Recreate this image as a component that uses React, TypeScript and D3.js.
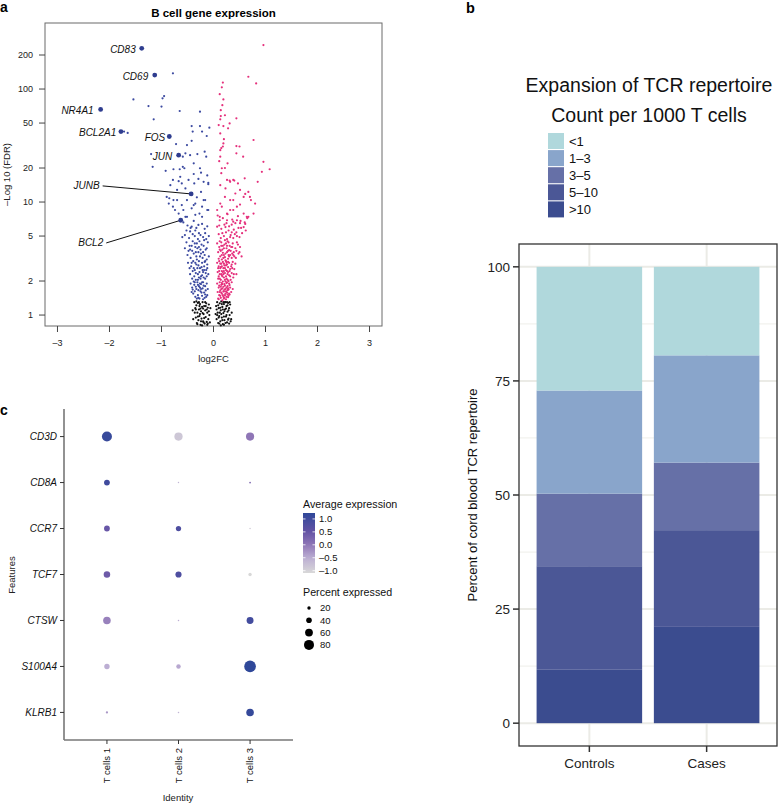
import * as d3 from "d3";

const FONT = "'Liberation Sans', Arial, Helvetica, sans-serif";

// ---------- panel a: volcano ----------
const LABELED_GENES = ["CD83", "CD69", "NR4A1", "BCL2A1", "FOS", "JUN", "JUNB", "BCL2"];
const LABELED_FC = [-1.38, -1.13, -2.17, -1.78, -0.85, -0.67, -0.43, -0.63];
const LABELED_FDR = [229, 133, 66, 42, 38, 26, 11.8, 6.9];

// [log2FC, -log10 FDR]
const DOWN_POINTS = [
  [-1.54, 81], [-1.65, 40.9], [-1.72, 42], [-1.25, 70.6], [-1.0, 70], [-0.98, 82.8], [-0.95, 86.7], [-0.78, 137.7],
  [-1.15, 54], [-0.65, 63.9], [-0.26, 63], [-0.42, 47], [-0.26, 47], [-0.08, 45.5], [-0.4, 42], [-0.22, 42],
  [-0.13, 38.4], [-0.42, 34.8], [-0.51, 31.9], [-1.2, 26.6], [-0.59, 25.2], [-1.17, 20.5], [-0.92, 18.9], [-0.77, 19.5],
  [-0.45, 26], [-0.31, 26.6], [-0.17, 27.9], [-0.14, 25.2], [-0.59, 20.5], [-0.38, 22], [-0.26, 19.9], [-0.64, 16.7],
  [-0.48, 15.7], [-0.37, 14.6], [-0.1, 14.4], [-0.83, 14.1], [-0.7, 12.8], [-0.54, 13.2], [-0.24, 12.3], [-0.9, 11.1],
  [-0.77, 10.4], [-0.86, 9.7], [-0.74, 8.5], [-0.61, 9.4], [-0.51, 10.4], [-0.35, 9.7], [-0.19, 10.4], [-0.1, 8.5],
  [-0.27, 7.9], [-0.42, 8.8], [-0.54, 7.4], [-0.67, 7.9], [-0.72, 32.6], [-0.54, 27], [-0.65, 19.5], [-0.56, 19.9],
  [-0.38, 17.7], [-0.24, 18.2], [-0.12, 17.2], [-0.78, 15.7], [-0.67, 15.3], [-0.61, 14.6], [-0.29, 16], [-0.19, 15.1],
  [-0.1, 14.8], [-0.85, 10.8], [-0.7, 10.4], [-0.32, 11], [-0.16, 10.4], [-0.78, 9.1], [-0.58, 8.5], [-0.38, 9.4],
  [-0.22, 9.1], [-0.12, 8.5], [-0.51, 7.4], [-0.35, 7.7], [-0.22, 7.4], [-0.42, 6.05], [-0.29, 6.27],
  [-0.58, 6.6], [-0.5, 6.2], [-0.45, 5.5], [-0.38, 6.8], [-0.33, 5.9], [-0.28, 5.3], [-0.22, 6.4], [-0.17, 5.8],
  [-0.12, 6.1], [-0.09, 5.0], [-0.55, 5.1], [-0.47, 4.8], [-0.4, 5.2], [-0.3, 4.7], [-0.2, 4.9], [-0.14, 4.7],
  [-0.6, 4.9], [-0.35, 5.6], [-0.52, 4.4], [-0.46, 4.1], [-0.41, 3.7], [-0.36, 4.3], [-0.31, 3.9], [-0.27, 4.5],
  [-0.24, 3.5], [-0.19, 4.1], [-0.15, 3.8], [-0.11, 4.4], [-0.09, 3.3], [-0.5, 3.4], [-0.44, 3.2], [-0.38, 3.5],
  [-0.33, 3.3], [-0.29, 3.6], [-0.21, 3.2], [-0.17, 3.4], [-0.13, 3.1], [-0.55, 3.9], [-0.48, 3.7], [-0.35, 4.0],
  [-0.25, 3.8], [-0.4, 4.5], [-0.49, 2.9], [-0.43, 2.7], [-0.39, 3.0], [-0.36, 2.5], [-0.33, 2.8], [-0.3, 2.3],
  [-0.28, 3.0], [-0.26, 2.6], [-0.24, 2.2], [-0.22, 2.9], [-0.2, 2.4], [-0.18, 2.7], [-0.16, 2.1], [-0.14, 2.5],
  [-0.12, 2.8], [-0.1, 2.3], [-0.45, 2.3], [-0.41, 2.1], [-0.37, 2.2], [-0.34, 2.05], [-0.31, 2.6], [-0.27, 2.4],
  [-0.23, 2.65], [-0.19, 2.15], [-0.15, 2.35], [-0.35, 2.9], [-0.29, 2.75], [-0.21, 2.5], [-0.17, 2.95], [-0.13, 2.2],
  [-0.4, 2.45], [-0.25, 2.1], [-0.44, 1.9], [-0.41, 1.75], [-0.39, 1.55], [-0.37, 1.85], [-0.35, 1.45], [-0.33, 1.7],
  [-0.31, 1.95], [-0.3, 1.5], [-0.28, 1.8], [-0.27, 1.4], [-0.25, 1.62], [-0.24, 1.88], [-0.22, 1.48], [-0.21, 1.72],
  [-0.2, 1.95], [-0.18, 1.58], [-0.17, 1.42], [-0.16, 1.8], [-0.15, 1.65], [-0.13, 1.9], [-0.12, 1.5], [-0.11, 1.7],
  [-0.36, 1.62], [-0.32, 1.4], [-0.29, 1.66], [-0.26, 1.9], [-0.23, 1.58], [-0.19, 1.82], [-0.14, 1.45], [-0.38, 1.98],
  [-0.34, 1.78], [-0.2, 1.38], [-0.42, 1.6], [-0.3, 1.85], [-0.24, 1.7],
  [-0.34, 2.35], [-0.28, 2.15], [-0.22, 2.25], [-0.18, 2.5], [-0.32, 3.1], [-0.26, 3.3], [-0.2, 3.6], [-0.16, 3.0],
  [-0.42, 2.9], [-0.38, 2.6], [-0.3, 2.05], [-0.12, 2.6], [-0.26, 1.75], [-0.22, 1.95], [-0.16, 1.52], [-0.36, 1.95],
  [-0.29, 1.42], [-0.4, 1.68], [-0.46, 2.6], [-0.23, 4.2], [-0.45, 3.8], [-0.34, 3.6], [-0.13, 3.9], [-0.28, 4.0],
  [-0.42, 4.1], [-0.18, 4.6], [-0.32, 4.3], [-0.25, 5.1], [-0.44, 5.9], [-0.16, 5.3], [-0.52, 5.6], [-0.36, 5.0],
];

const UP_POINTS = [
  [0.96, 245], [0.67, 128.5], [0.82, 112], [0.18, 114], [0.16, 103.5], [0.19, 81], [0.14, 65], [0.44, 55],
  [0.13, 54], [0.19, 47], [0.28, 44.9], [0.13, 40.5], [0.77, 35.4], [0.44, 31.3], [0.5, 31], [0.18, 31],
  [0.44, 27], [0.57, 25.2], [0.13, 25.2], [0.96, 22.7], [0.27, 22], [1.08, 19.5], [0.93, 18.5], [0.15, 18],
  [0.38, 15.7], [0.31, 15.5], [0.6, 16.2], [0.85, 15.1], [0.47, 14.6], [0.13, 14.1], [0.23, 13.2], [0.67, 12.3],
  [0.42, 11.9], [0.58, 11.1], [0.72, 10.4], [0.8, 9.7], [0.32, 10.4], [0.13, 9.7], [0.51, 9.5], [0.07, 8.5],
  [0.26, 7.9], [0.38, 8.5], [0.64, 7.4], [0.45, 6.9], [0.77, 7.9], [0.14, 57.6], [0.22, 58.6], [0.31, 49.6],
  [0.19, 33], [0.13, 28.8], [0.16, 19.9], [0.26, 15.7], [0.32, 15.1], [0.4, 15.5], [0.51, 12.8], [0.61, 11.8],
  [0.7, 11.1], [0.22, 11.1], [0.38, 10.4], [0.16, 9.1], [0.32, 8.5], [0.45, 9.1], [0.58, 7.9], [0.67, 7.4],
  [0.12, 7.4], [0.26, 6.9], [0.38, 6.7], [0.51, 6.5], [0.61, 6.4], [0.07, 6.05], [0.12, 90], [0.17, 72],
  [0.1, 48], [0.2, 36], [0.15, 30], [0.11, 23], [0.22, 20],
  [0.08, 7.6], [0.12, 6.9], [0.15, 5.8], [0.18, 7.2], [0.21, 6.3], [0.24, 5.4], [0.27, 7.8], [0.3, 6.1],
  [0.33, 5.1], [0.36, 7.0], [0.39, 5.7], [0.42, 6.5], [0.45, 5.0], [0.48, 5.9], [0.52, 6.8], [0.55, 5.3],
  [0.58, 6.0], [0.62, 5.6], [0.1, 5.2], [0.14, 4.8], [0.2, 5.0], [0.26, 4.7], [0.32, 4.9], [0.38, 4.8],
  [0.44, 5.4], [0.5, 4.9], [0.65, 7.2], [0.11, 6.2], [0.23, 6.0], [0.35, 6.3],
  [0.07, 4.3], [0.09, 3.6], [0.11, 4.0], [0.13, 3.3], [0.15, 4.4], [0.17, 3.8], [0.19, 3.2], [0.21, 4.2],
  [0.23, 3.5], [0.25, 3.9], [0.27, 4.5], [0.29, 3.4], [0.31, 4.1], [0.33, 3.7], [0.35, 3.2], [0.37, 4.3],
  [0.39, 3.6], [0.42, 3.9], [0.45, 4.4], [0.48, 3.5], [0.51, 4.0], [0.54, 3.3], [0.1, 3.15], [0.14, 3.7],
  [0.18, 4.1], [0.22, 3.25], [0.26, 3.6], [0.3, 3.3], [0.34, 4.0], [0.38, 3.4], [0.43, 3.2], [0.47, 4.2],
  [0.2, 3.9], [0.28, 3.15], [0.24, 4.3], [0.12, 4.5], [0.36, 3.5], [0.16, 3.4],
  [0.07, 2.9], [0.08, 2.4], [0.09, 2.1], [0.1, 2.7], [0.11, 3.0], [0.12, 2.3], [0.13, 2.6], [0.14, 2.05],
  [0.15, 2.85], [0.16, 2.45], [0.17, 2.2], [0.18, 2.95], [0.19, 2.6], [0.2, 2.15], [0.21, 2.75], [0.22, 2.35],
  [0.23, 3.05], [0.24, 2.5], [0.25, 2.1], [0.26, 2.8], [0.27, 2.3], [0.28, 2.65], [0.29, 2.0], [0.3, 2.9],
  [0.31, 2.45], [0.32, 2.2], [0.34, 2.7], [0.35, 2.35], [0.37, 2.95], [0.38, 2.15], [0.4, 2.55], [0.42, 2.85],
  [0.44, 2.3], [0.1, 2.2], [0.13, 2.85], [0.16, 2.7], [0.19, 2.3], [0.22, 2.6], [0.25, 2.9], [0.28, 2.4],
  [0.33, 2.05], [0.36, 2.6], [0.2, 2.45], [0.15, 2.3], [0.27, 2.05], [0.09, 2.6], [0.24, 2.75],
  [0.07, 1.9], [0.08, 1.6], [0.09, 1.4], [0.1, 1.75], [0.11, 1.5], [0.12, 1.95], [0.13, 1.65], [0.14, 1.42],
  [0.15, 1.85], [0.16, 1.55], [0.17, 1.72], [0.18, 1.98], [0.19, 1.45], [0.2, 1.62], [0.21, 1.88], [0.22, 1.5],
  [0.23, 1.7], [0.24, 1.38], [0.25, 1.92], [0.26, 1.58], [0.27, 1.8], [0.28, 1.44], [0.29, 1.68], [0.3, 1.9],
  [0.31, 1.52], [0.32, 1.75], [0.34, 1.6], [0.35, 1.95], [0.37, 1.7], [0.1, 1.38], [0.12, 1.6], [0.14, 1.78],
  [0.16, 1.92], [0.18, 1.5], [0.2, 1.4], [0.22, 1.82], [0.24, 1.62], [0.26, 1.95], [0.28, 1.72], [0.3, 1.55],
  [0.13, 1.48], [0.17, 1.35], [0.21, 1.68], [0.25, 1.45], [0.19, 1.78], [0.23, 1.98], [0.27, 1.52], [0.15, 1.7],
  [0.11, 1.82], [0.15, 1.58], [0.19, 1.62], [0.23, 1.55], [0.27, 1.66], [0.31, 1.84], [0.17, 1.88], [0.21, 1.42],
  [0.25, 1.75], [0.29, 1.48], [0.12, 2.1], [0.16, 2.25], [0.2, 2.85], [0.24, 2.2], [0.28, 2.95], [0.32, 2.55],
  [0.14, 2.65], [0.18, 2.4], [0.22, 2.05], [0.26, 2.45], [0.3, 2.25], [0.11, 2.45], [0.35, 2.8], [0.39, 2.3],
  [0.16, 3.1], [0.2, 3.4], [0.24, 3.0], [0.28, 3.7], [0.32, 3.4], [0.12, 3.8], [0.18, 3.55], [0.26, 4.1],
  [0.3, 3.75], [0.22, 4.6], [0.36, 4.0], [0.4, 3.3], [0.44, 3.7], [0.15, 4.1], [0.29, 4.4], [0.5, 3.6],
  [0.17, 5.3], [0.29, 5.6], [0.41, 5.2], [0.53, 5.9], [0.25, 6.5], [0.47, 7.5], [0.6, 6.6], [0.35, 5.4],
];

const NS_POINTS = [
  [-0.37, 1.3], [-0.35, 1.15], [-0.34, 0.95], [-0.33, 1.22], [-0.32, 0.85], [-0.31, 1.05], [-0.3, 1.28], [-0.29, 0.9],
  [-0.28, 1.12], [-0.27, 0.98], [-0.26, 1.25], [-0.25, 0.82], [-0.24, 1.08], [-0.23, 0.93], [-0.22, 1.18], [-0.21, 1.3],
  [-0.2, 0.88], [-0.19, 1.02], [-0.18, 1.2], [-0.17, 0.84], [-0.16, 1.1], [-0.15, 0.96], [-0.14, 1.27], [-0.13, 0.87],
  [-0.12, 1.05], [-0.11, 1.16], [-0.1, 0.92], [-0.09, 1.24], [-0.08, 1.0], [-0.07, 0.86], [-0.36, 1.05], [-0.33, 1.32],
  [-0.3, 0.97], [-0.27, 1.2], [-0.24, 0.88], [-0.21, 1.04], [-0.18, 0.94], [-0.15, 1.2], [-0.12, 0.82], [-0.28, 1.3],
  [-0.22, 0.81], [-0.16, 1.3], [-0.26, 1.02], [-0.2, 1.14], [-0.34, 1.12], [-0.13, 1.12], [-0.31, 0.83], [-0.19, 0.86],
  [-0.09, 1.08], [-0.25, 1.14], [-0.4, 1.1], [-0.39, 0.92], [-0.06, 1.15], [-0.11, 0.84],
  [0.05, 1.2], [0.06, 0.92], [0.07, 1.3], [0.08, 1.05], [0.09, 0.85], [0.1, 1.15], [0.11, 0.98], [0.12, 1.27],
  [0.13, 0.88], [0.14, 1.1], [0.15, 1.32], [0.16, 0.95], [0.17, 1.18], [0.18, 0.83], [0.19, 1.04], [0.2, 1.25],
  [0.21, 0.9], [0.22, 1.12], [0.23, 1.3], [0.24, 0.97], [0.25, 1.2], [0.26, 0.86], [0.27, 1.07], [0.28, 1.28],
  [0.29, 0.93], [0.3, 1.15], [0.31, 1.0], [0.32, 1.24], [0.33, 0.88], [0.07, 1.0], [0.09, 1.22], [0.11, 0.84],
  [0.13, 1.16], [0.15, 1.02], [0.17, 0.9], [0.19, 1.3], [0.21, 1.08], [0.23, 0.85], [0.25, 1.0], [0.27, 1.22],
  [0.29, 1.1], [0.31, 1.3], [0.12, 1.05], [0.16, 1.25], [0.2, 0.97], [0.24, 1.14], [0.28, 0.91], [0.14, 0.81],
  [0.22, 1.3], [0.18, 1.12], [0.26, 1.3], [0.1, 0.95], [0.06, 1.12], [0.3, 0.84], [0.2, 0.82], [0.35, 1.05],
  [0.34, 0.92], [0.04, 1.02],
];

const VOLCANO_X_TICKS = [-3, -2, -1, 0, 1, 2, 3];
const VOLCANO_Y_TICKS = [1, 2, 5, 10, 20, 50, 100, 200];

// label placement relative to the dot (px), [dx, dy, leader line]
const LABEL_OFFSETS = [
  [-6, 1.5, 0], [-6.5, 1.7, 0], [-7, 0.7, 0], [-4.7, 1.3, 0],
  [-4, 1, 0], [-6.4, 1.7, 0], [-91.5, -8, 1], [-77.5, 22.7, 1],
];

// ---------- panel b: stacked bars ----------
const GROUPS = ["Controls", "Cases"];
const BINS = [">10", "5\u201310", "3\u20135", "1\u20133", "<1"];
const CONTROLS_PCT = [11.7, 22.7, 15.9, 22.6, 27.1];
const CASES_PCT = [21.1, 21.2, 14.8, 23.5, 19.4];
const BIN_COLORS = ["#3b4c8f", "#4b5796", "#6670a7", "#89a5cb", "#b0d8dc"];
const PCT_TICKS = [0, 25, 50, 75, 100];

// ---------- panel c: dot plot ----------
const GENES = ["CD3D", "CD8A", "CCR7", "TCF7", "CTSW", "S100A4", "KLRB1"];
const CLUSTERS = ["T cells 1", "T cells 2", "T cells 3"];
const AVG_EXP = [
  [1.1, -0.85, 0.0],
  [1.0, -0.6, 0.2],
  [0.45, 0.8, -0.9],
  [0.4, 0.8, -1.09],
  [-0.1, -0.5, 0.95],
  [-0.5, -0.45, 1.23],
  [-0.3, -0.6, 1.15],
];
const PCT_EXP = [
  [80, 64, 63],
  [42, 2, 5],
  [42, 37, 3],
  [48, 45, 20],
  [58, 3, 52],
  [38, 30, 95],
  [10, 3, 58],
];
const EXP_BREAKS = [1.0, 0.5, 0.0, -0.5, -1.0];
const SIZE_BREAKS = [20, 40, 60, 80];

const fmt = (v: number, d = 0) => (v < 0 ? "\u2013" : "") + Math.abs(v).toFixed(d);

function Volcano() {
  const x = d3.scaleLinear().domain([-3.24, 3.24]).range([45, 382]);
  const y = d3.scaleLog().domain([0.8, 384]).range([326, 23]);
  const dot = (pts: number[][], color: string) =>
    pts.map((p, i) => <circle key={color + i} cx={x(p[0])} cy={y(p[1])} r={1.1} fill={color} />);
  return (
    <g fontFamily={FONT}>
      <text x={0} y={12} fontSize={14} fontWeight="bold">a</text>
      <text x={213.5} y={17} fontSize={11.5} fontWeight="bold" textAnchor="middle">B cell gene expression</text>
      <rect x={45} y={23} width={337} height={303} fill="none" stroke="#6b6b6b" strokeWidth={1} />
      {VOLCANO_Y_TICKS.map((t) => (
        <g key={t}>
          <line x1={39} x2={45} y1={y(t)} y2={y(t)} stroke="#444" />
          <text x={33} y={y(t)} dy="0.35em" fontSize={9} textAnchor="end" fill="#222">{t}</text>
        </g>
      ))}
      {VOLCANO_X_TICKS.map((t) => (
        <g key={t}>
          <line x1={x(t)} x2={x(t)} y1={326} y2={332} stroke="#444" />
          <text x={x(t)} y={346} fontSize={9} textAnchor="middle" fill="#222">{fmt(t)}</text>
        </g>
      ))}
      <text x={213.5} y={362} fontSize={9.5} textAnchor="middle" fill="#222">log2FC</text>
      <text transform="translate(10,174.5) rotate(-90)" fontSize={9.5} textAnchor="middle" fill="#222">
        {"\u2013Log 10 (FDR)"}
      </text>
      {dot(NS_POINTS, "#111")}
      {dot(DOWN_POINTS, "#3c4aa0")}
      {dot(UP_POINTS, "#e5307c")}
      {LABELED_GENES.map((g, i) => {
        const cx = x(LABELED_FC[i]);
        const cy = y(LABELED_FDR[i]);
        const [dx, dy, lead] = LABEL_OFFSETS[i];
        return (
          <g key={g}>
            {lead ? <line x1={cx + dx + 3} y1={cy + dy} x2={cx} y2={cy} stroke="#111" strokeWidth={1} /> : null}
            <circle cx={cx} cy={cy} r={2.4} fill="#2f3d8f" />
            <text x={cx + dx} y={cy + dy} dy="0.35em" fontSize={10} fontStyle="italic" textAnchor="end" fill="#111">
              {g}
            </text>
          </g>
        );
      })}
    </g>
  );
}

function StackedBars() {
  const x = d3.scaleBand().domain(GROUPS).range([519, 777]).paddingInner(0.1).paddingOuter(0.15);
  const y = d3.scaleLinear().domain([-5, 105]).range([746, 244]);
  const rows = [CONTROLS_PCT, CASES_PCT];
  const stacks = rows.map((vals) => {
    const ends = d3.cumsum(vals);
    return vals.map((v, i) => [ends[i] - v, ends[i]]);
  });
  const minor = [12.5, 37.5, 62.5, 87.5];
  return (
    <g fontFamily={FONT}>
      <text x={466} y={13} fontSize={14.5} fontWeight="bold">b</text>
      <text x={649} y={92} fontSize={19.5} textAnchor="middle" fill="#111">Expansion of TCR repertoire</text>
      <text x={649} y={122} fontSize={19.5} textAnchor="middle" fill="#111">Count per 1000 T cells</text>
      {[...BINS].reverse().map((b, i) => (
        <g key={b}>
          <rect x={548} y={133 + i * 17.1} width={16} height={16} fill={BIN_COLORS[BINS.length - 1 - i]} />
          <text x={569} y={141 + i * 17.1} dy="0.35em" fontSize={13} fill="#111">{b}</text>
        </g>
      ))}
      <rect x={519} y={244} width={258} height={502} fill="#fff" />
      {minor.map((t) => (
        <line key={t} x1={519} x2={777} y1={y(t)} y2={y(t)} stroke="#f2f2ee" strokeWidth={1.3} />
      ))}
      {PCT_TICKS.map((t) => (
        <line key={t} x1={519} x2={777} y1={y(t)} y2={y(t)} stroke="#ebebe6" strokeWidth={2} />
      ))}
      {GROUPS.map((g) => (
        <line key={g} x1={x(g)! + x.bandwidth() / 2} x2={x(g)! + x.bandwidth() / 2} y1={244} y2={746} stroke="#ebebe6" strokeWidth={2} />
      ))}
      {GROUPS.map((g, gi) =>
        stacks[gi].map(([a, b], i) => (
          <rect key={g + i} x={x(g)} width={x.bandwidth()} y={y(b)} height={y(a) - y(b)} fill={BIN_COLORS[i]} />
        ))
      )}
      <rect x={519} y={244} width={258} height={502} fill="none" stroke="#333" strokeWidth={1.3} />
      {PCT_TICKS.map((t) => (
        <g key={t}>
          <line x1={513} x2={519} y1={y(t)} y2={y(t)} stroke="#333" strokeWidth={1.5} />
          <text x={510} y={y(t)} dy="0.35em" fontSize={13.5} textAnchor="end" fill="#222">{t}</text>
        </g>
      ))}
      {GROUPS.map((g) => (
        <g key={g}>
          <line x1={x(g)! + x.bandwidth() / 2} x2={x(g)! + x.bandwidth() / 2} y1={746} y2={752} stroke="#333" strokeWidth={1.5} />
          <text x={x(g)! + x.bandwidth() / 2} y={768} fontSize={13.5} textAnchor="middle" fill="#222">{g}</text>
        </g>
      ))}
      <text transform="translate(477,495) rotate(-90)" fontSize={13} textAnchor="middle" fill="#111">
        Percent of cord blood TCR repertoire
      </text>
    </g>
  );
}

function DotPlot() {
  const x = d3.scalePoint().domain(CLUSTERS).range([64, 293]).padding(0.6);
  const y = d3.scalePoint().domain(GENES).range([409, 740]).padding(0.6);
  const r = d3.scaleLinear().domain([0, 100]).range([0.6, 6.1]);
  const color = d3
    .scaleLinear<string>()
    .domain([-1.09, -0.5, 0, 0.5, 1.23])
    .range(["#d8d8d8", "#bcaed3", "#8f76b6", "#6453a5", "#2f4899"])
    .interpolate(d3.interpolateRgb);
  const bar = d3.scaleLinear().domain([-1.09, 1.23]).range([573, 513]);
  const stops = d3.range(0, 1.0001, 0.1);
  return (
    <g fontFamily={FONT}>
      <text x={0} y={415} fontSize={14} fontWeight="bold">c</text>
      <line x1={64} x2={64} y1={409} y2={740} stroke="#777" strokeWidth={1.6} />
      <line x1={64} x2={293} y1={740} y2={740} stroke="#777" strokeWidth={1.6} />
      {GENES.map((g) => (
        <g key={g}>
          <line x1={60} x2={64} y1={y(g)} y2={y(g)} stroke="#333" />
          <text x={57} y={y(g)} dy="0.35em" fontSize={10} fontStyle="italic" textAnchor="end" fill="#111">{g}</text>
        </g>
      ))}
      {CLUSTERS.map((c) => (
        <g key={c}>
          <line x1={x(c)} x2={x(c)} y1={740} y2={744} stroke="#333" />
          <text transform={`translate(${x(c)},748) rotate(-90)`} dy="0.35em" fontSize={9.5} textAnchor="end" fill="#111">{c}</text>
        </g>
      ))}
      <text x={178} y={801} fontSize={9.5} textAnchor="middle" fill="#222">Identity</text>
      <text transform="translate(15,575) rotate(-90)" fontSize={9.5} textAnchor="middle" fill="#222">Features</text>
      {GENES.map((g, gi) =>
        CLUSTERS.map((c, ci) => (
          <circle key={g + c} cx={x(c)} cy={y(g)} r={r(PCT_EXP[gi][ci])} fill={color(AVG_EXP[gi][ci])} />
        ))
      )}
      <defs>
        <linearGradient id="expGrad" x1="0" y1="1" x2="0" y2="0">
          {stops.map((s) => (
            <stop key={s} offset={s} stopColor={color(-1.09 + s * (1.23 + 1.09))} />
          ))}
        </linearGradient>
      </defs>
      <text x={303} y={508} fontSize={10.7} fill="#111">Average expression</text>
      <rect x={303} y={513} width={12} height={60} fill="url(#expGrad)" />
      {EXP_BREAKS.map((b) => (
        <g key={b}>
          <line x1={303} x2={305.5} y1={bar(b)} y2={bar(b)} stroke="#fff" strokeWidth={0.8} />
          <line x1={312.5} x2={315} y1={bar(b)} y2={bar(b)} stroke="#fff" strokeWidth={0.8} />
          <text x={319} y={bar(b)} dy="0.35em" fontSize={9.5} fill="#111">{fmt(b, 1)}</text>
        </g>
      ))}
      <text x={303} y={596} fontSize={10.7} fill="#111">Percent expressed</text>
      {SIZE_BREAKS.map((s, i) => (
        <g key={s}>
          <circle cx={309} cy={608 + i * 12.3} r={r(s)} fill="#000" />
          <text x={320} y={608 + i * 12.3} dy="0.35em" fontSize={9.5} fill="#111">{s}</text>
        </g>
      ))}
    </g>
  );
}

export default function App() {
  return (
    <svg width={779} height={805} style={{ position: "absolute", left: 0, top: 0, background: "#fff" }}>
      <rect width={779} height={805} fill="#fff" />
      <Volcano />
      <StackedBars />
      <DotPlot />
    </svg>
  );
}
